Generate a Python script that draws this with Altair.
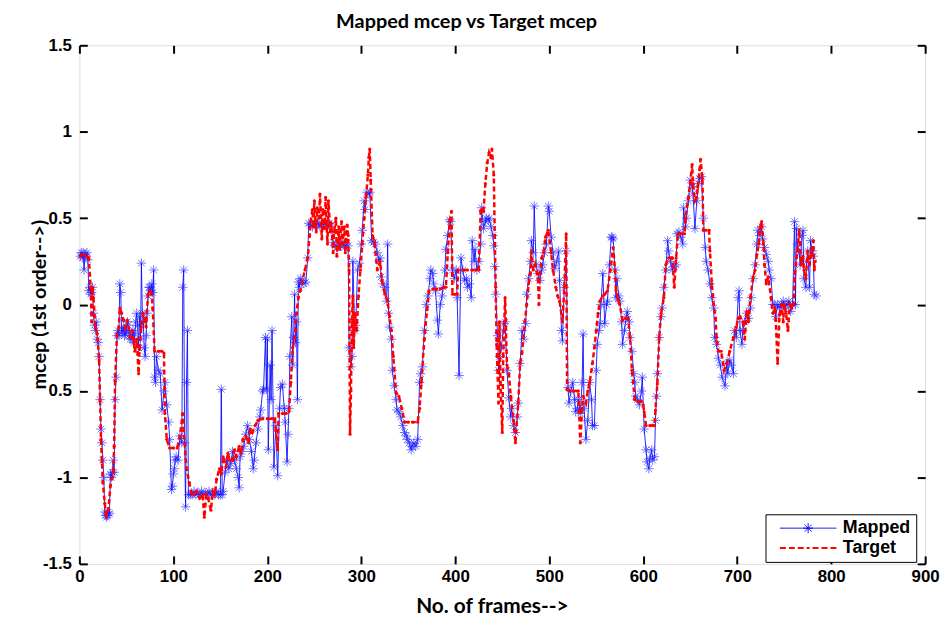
import altair as alt
import pandas as pd

# ---- data (frame number, mcep value) ----
target_points = [
    (1, 0.28), (4, 0.29), (7, 0.28), (10, 0.27), (12, 0.1), (13, -0.1), (14, 0.1), (15, 0.04),
    (17, -0.13), (19, -0.17), (21, -0.32), (22, -0.55), (23, -0.78), (24, -0.91), (25, -1.03),
    (27, -1.15), (28, -1.2), (29, -1.22), (31, -1.18), (33, -1.05), (35, -1.0), (36, -0.97),
    (37, -0.82), (38, -0.44), (40, -0.17), (42, -0.13), (43, -0.02), (45, -0.05), (47, -0.09),
    (49, -0.13), (51, -0.09), (54, -0.19), (56, -0.15), (58, -0.22), (59, -0.27), (61, -0.2),
    (63, -0.4), (64, -0.26), (66, -0.13), (68, -0.05), (70, -0.1), (71, -0.13), (73, 0.06),
    (75, 0.08), (77, 0.06), (78, -0.02), (80, -0.27), (84, -0.27), (88, -0.27), (90, -0.28),
    (91, -0.63), (93, -0.78), (96, -0.83), (100, -0.83), (104, -0.83), (107, -0.76), (110, -0.63),
    (111, -0.73), (114, -0.95), (117, -1.03), (119, -1.09), (122, -1.1), (125, -1.08), (128, -1.12),
    (131, -1.1), (133, -1.23), (135, -1.1), (137, -1.12), (140, -1.19), (142, -1.08), (144, -1.1),
    (146, -1.01), (149, -0.95), (151, -0.98), (153, -0.88), (156, -0.94), (158, -0.86), (160, -0.9),
    (163, -0.9), (165, -0.84), (167, -0.88), (170, -0.82), (172, -0.86), (174, -0.78), (177, -0.76),
    (180, -0.8), (182, -0.72), (184, -0.74), (187, -0.7), (190, -0.67), (195, -0.66), (200, -0.66),
    (205, -0.66), (208, -0.66), (209, -0.73), (211, -0.84), (212, -0.63), (216, -0.63), (220, -0.63),
    (223, -0.62), (225, -0.45), (227, -0.25), (229, -0.2), (231, -0.05), (233, 0.04), (235, 0.08),
    (237, 0.13), (240, 0.2), (243, 0.27), (245, 0.4), (246, 0.48), (248, 0.55), (249, 0.45),
    (250, 0.6), (252, 0.42), (253, 0.56), (255, 0.5), (256, 0.64), (258, 0.38), (259, 0.55),
    (261, 0.44), (262, 0.62), (264, 0.35), (265, 0.6), (267, 0.42), (268, 0.47), (270, 0.3),
    (271, 0.42), (273, 0.5), (274, 0.28), (276, 0.45), (277, 0.32), (279, 0.48), (280, 0.35),
    (282, 0.45), (283, 0.3), (285, 0.46), (286, 0.4), (287, 0.2), (288, -0.75), (289, -0.5),
    (290, -0.1), (291, 0.05), (292, -0.25), (293, -0.05), (295, -0.15), (297, 0.05), (299, 0.2),
    (301, 0.35), (303, 0.5), (305, 0.62), (307, 0.75), (308, 0.85), (309, 0.9), (310, 0.72),
    (312, 0.4), (314, 0.36), (317, 0.2), (320, 0.25), (322, 0.14), (325, 0.06), (328, 0.02),
    (330, -0.07), (332, -0.15), (334, -0.3), (337, -0.51), (340, -0.53), (343, -0.6), (346, -0.68),
    (350, -0.68), (355, -0.68), (360, -0.68), (362, -0.6), (364, -0.45), (367, -0.2), (370, -0.03),
    (372, 0.08), (376, 0.09), (380, 0.09), (384, 0.09), (388, 0.1), (390, 0.1), (392, 0.3),
    (394, 0.48), (396, 0.54), (397, 0.06), (399, 0.06), (402, 0.06), (403, 0.2), (408, 0.2),
    (413, 0.2), (418, 0.2), (422, 0.2), (425, 0.2), (427, 0.54), (428, 0.55), (430, 0.54),
    (432, 0.7), (434, 0.82), (436, 0.88), (438, 0.85), (439, 0.9), (441, 0.75), (442, 0.4),
    (443, 0.1), (444, -0.23), (446, -0.57), (447, -0.1), (448, -0.45), (450, -0.74), (451, -0.3),
    (453, 0.04), (455, -0.35), (457, -0.4), (459, -0.53), (462, -0.67), (464, -0.8), (467, -0.57),
    (469, -0.34), (471, -0.28), (474, -0.1), (476, 0.0), (478, 0.12), (480, 0.18), (481, 0.31),
    (483, 0.2), (485, 0.23), (488, 0.15), (489, 0.0), (490, 0.18), (492, 0.27), (494, 0.3),
    (496, 0.39), (499, 0.43), (502, 0.3), (504, 0.2), (507, 0.1), (509, 0.05), (511, 0.02),
    (514, -0.1), (516, 0.1), (518, 0.41), (519, -0.49), (522, -0.5), (526, -0.5), (530, -0.5),
    (531, -0.5), (533, -0.8), (535, -0.6), (536, -0.53), (539, -0.57), (541, -0.5), (543, -0.45),
    (546, -0.34), (548, -0.25), (550, -0.15), (552, -0.05), (554, 0.02), (557, 0.05), (559, 0.06),
    (562, 0.08), (565, 0.2), (568, 0.33), (570, 0.2), (571, 0.08), (573, 0.03), (575, 0.0),
    (578, -0.09), (581, -0.08), (584, -0.08), (586, -0.19), (588, -0.38), (591, -0.55), (594, -0.56),
    (598, -0.56), (600, -0.58), (601, -0.62), (603, -0.7), (607, -0.7), (610, -0.7), (612, -0.7),
    (613, -0.61), (615, -0.46), (617, -0.19), (619, -0.05), (622, 0.04), (624, 0.23), (627, 0.27),
    (630, 0.27), (631, 0.27), (633, 0.1), (635, 0.27), (637, 0.41), (640, 0.41), (644, 0.41),
    (645, 0.5), (648, 0.62), (650, 0.7), (652, 0.81), (653, 0.7), (655, 0.6), (657, 0.62),
    (658, 0.68), (660, 0.78), (661, 0.84), (663, 0.73), (664, 0.43), (667, 0.43), (670, 0.43),
    (671, 0.31), (673, 0.12), (675, 0.0), (677, -0.08), (678, -0.19), (680, -0.27), (683, -0.27),
    (686, -0.38), (689, -0.34), (692, -0.27), (696, -0.19), (699, -0.13), (701, -0.08), (703, -0.07),
    (706, -0.1), (708, -0.2), (710, -0.04), (712, -0.1), (714, 0.04), (717, 0.16), (719, 0.2),
    (721, 0.29), (723, 0.35), (724, 0.44), (726, 0.48), (728, 0.35), (729, 0.23), (731, 0.12),
    (733, 0.16), (736, 0.04), (738, -0.05), (740, -0.02), (741, -0.09), (743, -0.34), (745, -0.06),
    (747, 0.0), (749, -0.1), (750, 0.0), (752, -0.05), (754, -0.15), (756, 0.0), (758, -0.02),
    (760, 0.0), (761, 0.15), (763, 0.27), (764, 0.31), (766, 0.43), (768, 0.23), (770, 0.28),
    (771, 0.2), (773, 0.15), (775, 0.31), (777, 0.23), (779, 0.3), (781, 0.37), (782, 0.2),
    (783, 0.25),
]

mapped_points = [
    (1, 0.28), (2, 0.3), (3, 0.27), (4, 0.3), (5, 0.2), (6, 0.29), (7, 0.28), (8, 0.3), (9, 0.26),
    (10, 0.08), (11, 0.1), (12, 0.06), (13, 0.07), (14, 0.1), (15, -0.05), (16, -0.12), (17, -0.15),
    (18, -0.1), (19, -0.2), (20, -0.22), (21, -0.3), (22, -0.55), (23, -0.72), (24, -0.8), (25, -0.9),
    (26, -1.0), (27, -1.2), (28, -1.22), (29, -1.23), (30, -1.22), (31, -1.2), (32, -1.21),
    (33, -0.98), (34, -1.0), (35, -0.97), (36, -0.9), (37, -0.97), (38, -0.55), (39, -0.42),
    (40, -0.18), (41, -0.15), (42, -0.18), (43, 0.12), (44, 0.07), (45, -0.16), (46, -0.15),
    (47, -0.13), (48, -0.18), (49, -0.17), (50, -0.15), (51, -0.1), (52, -0.12), (53, -0.16),
    (54, -0.2), (55, -0.18), (56, -0.2), (57, -0.15), (58, -0.22), (59, -0.17), (60, -0.1),
    (61, -0.05), (62, -0.12), (63, -0.25), (64, -0.07), (65, -0.2), (66, 0.24), (67, -0.05),
    (68, -0.1), (69, -0.25), (70, -0.3), (71, -0.18), (72, -0.05), (73, 0.05), (74, 0.1), (75, 0.1),
    (76, 0.08), (77, 0.12), (78, 0.07), (79, 0.2), (80, -0.42), (81, -0.45), (82, -0.3), (84, -0.38),
    (86, -0.4), (88, -0.61), (90, -0.5), (91, -0.45), (93, -0.58), (95, -0.68), (96, -0.78),
    (98, -1.07), (99, -1.05), (100, -0.98), (101, -0.95), (102, -0.9), (103, -0.88), (105, -0.9),
    (107, -0.76), (109, -0.8), (110, 0.1), (111, 0.2), (112, -0.8), (113, -1.17), (114, -0.45),
    (115, -0.15), (116, -1.1), (118, -1.1), (120, -1.1), (122, -1.08), (124, -1.1), (126, -1.09),
    (128, -1.1), (130, -1.08), (132, -1.1), (134, -1.09), (136, -1.1), (138, -1.08), (140, -1.1),
    (142, -1.09), (144, -1.1), (146, -1.08), (148, -1.1), (150, -1.1), (151, -0.49), (152, -1.1),
    (153, -1.08), (155, -0.97), (157, -0.9), (159, -0.95), (161, -0.92), (163, -0.85), (165, -0.9),
    (167, -0.95), (169, -1.0), (170, -1.06), (171, -0.88), (173, -0.85), (175, -0.82), (177, -0.75),
    (179, -0.7), (181, -0.78), (183, -0.85), (185, -0.95), (186, -0.9), (188, -0.8), (190, -0.72),
    (192, -0.65), (193, -0.61), (195, -0.5), (196, -0.49), (198, -0.19), (199, -0.49), (200, -0.2),
    (201, -0.84), (203, -0.35), (204, -0.55), (205, -0.15), (207, -0.94), (209, -0.7), (211, -0.99),
    (213, -0.6), (214, -0.48), (216, -0.46), (218, -0.6), (219, -0.68), (221, -0.91), (222, -0.75),
    (223, -0.6), (224, -0.3), (226, -0.07), (227, -0.35), (228, -0.19), (229, 0.06), (230, -0.22),
    (231, -0.1), (232, -0.55), (233, 0.13), (234, 0.1), (235, 0.15), (237, 0.14), (239, 0.12),
    (241, 0.13), (243, 0.27), (244, 0.47), (246, 0.46), (248, 0.45), (250, 0.48), (252, 0.46),
    (254, 0.47), (256, 0.45), (258, 0.47), (260, 0.46), (262, 0.48), (264, 0.45), (266, 0.47),
    (268, 0.46), (270, 0.36), (272, 0.34), (274, 0.33), (276, 0.35), (278, 0.34), (280, 0.36),
    (282, 0.33), (284, 0.35), (286, 0.34), (287, -0.25), (289, -0.36), (290, -0.3), (291, 0.25),
    (293, -0.15), (294, -0.12), (296, 0.2), (298, 0.24), (300, 0.35), (301, 0.43), (303, 0.6),
    (304, 0.55), (306, 0.65), (308, 0.64), (309, 0.65), (311, 0.37), (313, 0.36), (315, 0.35),
    (317, 0.3), (319, 0.25), (320, 0.27), (321, 0.16), (323, 0.12), (325, 0.1), (327, 0.02),
    (328, 0.35), (329, -0.05), (330, -0.13), (332, -0.2), (333, -0.38), (335, -0.47), (337, -0.55),
    (338, -0.61), (340, -0.62), (342, -0.65), (344, -0.7), (346, -0.74), (348, -0.76), (349, -0.78),
    (351, -0.8), (353, -0.84), (354, -0.82), (356, -0.8), (358, -0.82), (360, -0.78), (362, -0.45),
    (363, -0.4), (365, -0.36), (367, -0.15), (369, 0.0), (371, 0.05), (373, 0.15), (374, 0.2),
    (376, 0.18), (377, 0.12), (379, 0.08), (381, -0.09), (382, -0.17), (384, 0.0), (386, 0.05),
    (387, 0.1), (389, 0.2), (390, 0.32), (392, 0.4), (394, 0.49), (395, 0.48), (397, 0.2),
    (399, 0.15), (401, 0.2), (402, 0.04), (404, -0.41), (406, 0.27), (408, 0.2), (410, 0.14),
    (412, 0.15), (413, 0.1), (415, 0.12), (417, 0.04), (418, 0.37), (420, 0.25), (421, 0.32),
    (423, 0.2), (425, 0.25), (427, 0.35), (428, 0.56), (430, 0.44), (432, 0.48), (433, 0.5),
    (435, 0.49), (436, 0.5), (438, 0.45), (440, 0.4), (441, 0.34), (442, 0.22), (443, 0.06),
    (445, -0.18), (446, -0.38), (447, -0.3), (449, -0.25), (451, -0.15), (452, -0.11), (453, -0.1),
    (455, -0.38), (457, -0.54), (459, -0.65), (460, -0.6), (462, -0.7), (464, -0.74), (466, -0.65),
    (467, -0.57), (469, -0.34), (471, -0.15), (473, -0.2), (475, -0.11), (476, 0.06), (478, 0.15),
    (480, 0.25), (481, 0.37), (483, 0.3), (484, 0.57), (486, 0.23), (488, 0.18), (490, 0.14),
    (492, 0.2), (493, 0.23), (495, 0.3), (497, 0.35), (499, 0.57), (500, 0.54), (502, 0.39),
    (504, 0.3), (506, 0.21), (508, 0.25), (510, 0.31), (511, 0.14), (513, -0.15), (514, -0.21),
    (516, 0.1), (518, 0.31), (520, -0.48), (521, -0.57), (523, -0.5), (525, -0.45), (527, -0.55),
    (528, -0.62), (530, -0.6), (531, -0.55), (533, -0.63), (535, -0.45), (536, -0.17), (537, -0.6),
    (539, -0.78), (541, -0.67), (543, -0.45), (545, -0.55), (546, -0.7), (548, -0.7), (550, -0.38),
    (551, -0.23), (553, -0.15), (554, -0.11), (555, 0.0), (557, 0.18), (559, -0.11), (561, 0.0),
    (562, 0.02), (564, 0.23), (566, 0.39), (567, 0.39), (568, 0.38), (570, 0.2), (571, 0.04),
    (572, 0.15), (574, 0.05), (575, 0.02), (577, -0.1), (578, -0.23), (580, -0.15), (582, -0.07),
    (583, -0.04), (585, -0.1), (586, -0.19), (588, -0.27), (590, -0.4), (591, -0.45), (592, -0.53),
    (594, -0.55), (596, -0.58), (598, -0.5), (599, -0.42), (601, -0.72), (603, -0.84), (604, -0.91),
    (606, -0.95), (607, -0.89), (609, -0.84), (610, -0.9), (612, -0.88), (613, -0.67), (614, -0.53),
    (615, -0.4), (617, -0.19), (619, -0.07), (620, -0.02), (622, 0.1), (624, 0.2), (626, 0.37),
    (627, 0.31), (629, 0.25), (631, 0.2), (633, 0.22), (635, 0.23), (636, 0.41), (638, 0.42),
    (640, 0.39), (642, 0.35), (643, 0.56), (645, 0.45), (646, 0.5), (648, 0.6), (650, 0.72),
    (652, 0.68), (653, 0.64), (655, 0.44), (657, 0.6), (659, 0.7), (660, 0.73), (662, 0.74),
    (664, 0.5), (666, 0.33), (667, 0.25), (669, 0.2), (671, 0.12), (673, 0.04), (675, -0.02),
    (676, -0.19), (678, -0.23), (680, -0.31), (682, -0.35), (684, -0.42), (687, -0.47), (689, -0.34),
    (690, -0.4), (692, -0.32), (694, -0.35), (696, -0.4), (697, -0.15), (699, -0.19), (701, 0.04),
    (702, 0.08), (703, -0.15), (705, -0.23), (706, -0.15), (708, -0.1), (710, -0.05), (712, -0.08),
    (714, -0.02), (715, 0.04), (717, 0.15), (719, 0.23), (721, 0.35), (722, 0.43), (724, 0.4),
    (726, 0.45), (727, 0.38), (729, 0.33), (731, 0.29), (733, 0.25), (734, 0.2), (736, 0.15),
    (738, 0.0), (740, 0.0), (741, -0.07), (743, 0.0), (745, -0.02), (747, 0.0), (749, 0.02),
    (750, -0.02), (752, 0.0), (754, 0.0), (755, 0.02), (757, -0.04), (759, 0.0), (761, 0.48),
    (762, 0.0), (763, 0.44), (764, 0.35), (766, 0.3), (767, 0.23), (769, 0.4), (770, 0.43),
    (771, 0.15), (773, 0.1), (774, 0.25), (775, 0.31), (777, 0.1), (778, 0.37), (780, 0.31),
    (781, 0.28), (782, 0.06), (784, 0.05),
]

series_names = ["Mapped", "Target"]
series_colors = ["#0000ff", "#ff0000"]
x_ticks = [0, 100, 200, 300, 400, 500, 600, 700, 800, 900]
y_ticks = [-1.5, -1.0, -0.5, 0.0, 0.5, 1.0, 1.5]

# ---- tables ----
mapped_df = pd.DataFrame(mapped_points, columns=["frame", "mcep"])
mapped_df["series"] = "Mapped"
target_df = pd.DataFrame(target_points, columns=["frame", "mcep"])
target_df["series"] = "Target"

ASTERISK = "M0,-1V1M-1,0H1M-0.7,-0.7L0.7,0.7M-0.7,0.7L0.7,-0.7"
LEG_MAPPED = "M-5.7,0H5.7" + "M0,-1V1M-1,0H1M-0.7,-0.7L0.7,0.7M-0.7,0.7L0.7,-0.7"
LEG_TARGET = ("M-5.7,0H-4.5M-3.9,0H-2.7M-2.1,0H-0.9M-0.3,0H0.3"
              "M0.9,0H2.1M2.7,0H3.9M4.5,0H5.7")

xscale = alt.Scale(domain=[0, 900], nice=False, zero=False)
yscale = alt.Scale(domain=[-1.5, 1.5], nice=False, zero=False)

LABEL_FONT = "Liberation Sans"
TITLE_FONT = "Lato"

x_axis = alt.Axis(
    orient="bottom", values=x_ticks, labelExpr="'' + datum.value",
    domain=False, grid=False, ticks=True, tickSize=8, tickWidth=2, tickColor="black",
    offset=-8, labelFont=LABEL_FONT, labelFontSize=17, labelFontWeight="bold",
    labelColor="black", labelPadding=5, labelFlush=False, labelOverlap=False,
    title="No. of frames-->", titleFont=TITLE_FONT, titleFontSize=21,
    titleFontWeight="bold", titleColor="black", titleX=416, titleY=51,
    titleAlign="center", titleBaseline="middle",
)
y_axis = alt.Axis(
    orient="left", values=y_ticks,
    labelExpr="datum.value == -0.5 ? '0.5' : '' + datum.value",
    domain=False, grid=False, ticks=True, tickSize=8, tickWidth=2, tickColor="black",
    offset=-8, labelFont=LABEL_FONT, labelFontSize=17, labelFontWeight="bold",
    labelColor="black", labelPadding=8, labelFlush=False, labelOverlap=False,
    title="mcep (1st order-->)", titleFont=TITLE_FONT, titleFontSize=20,
    titleFontWeight="bold", titleColor="black", titleX=-48, titleY=261,
    titleAngle=-90, titleAlign="center", titleBaseline="middle",
)
x_top = alt.Axis(orient="top", values=x_ticks, domain=False, grid=False, labels=False,
                 ticks=True, tickSize=8, tickWidth=2, tickColor="black", offset=-8, title=None)
y_right = alt.Axis(orient="right", values=y_ticks, domain=False, grid=False, labels=False,
                   ticks=True, tickSize=8, tickWidth=2, tickColor="black", offset=-8, title=None)

legend = alt.Legend(
    title=None, orient="none", legendX=692, legendY=473, direction="vertical",
    labelFont=LABEL_FONT, labelFontSize=18, labelFontWeight="bold", labelColor="black",
    strokeColor="black", fillColor="white", padding=5, symbolSize=100,
    symbolOffset=29, labelOffset=26, rowPadding=2,
    symbolType={"expr": "datum.value === 'Mapped' ? '%s' : '%s'" % (LEG_MAPPED, LEG_TARGET)},
    symbolStrokeWidth={"expr": "datum.value === 'Mapped' ? 1 : 2"},
    symbolFillColor="transparent",
    symbolDash=[1, 0],
    symbolOpacity=1,
)

mapped_line = alt.Chart(mapped_df).mark_line(strokeWidth=1, opacity=0.85).encode(
    x=alt.X("frame:Q", scale=xscale, axis=x_axis),
    y=alt.Y("mcep:Q", scale=yscale, axis=y_axis),
    color=alt.Color("series:N", scale=alt.Scale(domain=series_names, range=series_colors),
                    legend=legend),
)
mapped_stars = alt.Chart(mapped_df).mark_point(
    shape=ASTERISK, filled=False, size=90, strokeWidth=1, color="#1a1aff", opacity=0.6
).encode(
    x=alt.X("frame:Q", scale=xscale, axis=None),
    y=alt.Y("mcep:Q", scale=yscale, axis=None),
)
target_line = alt.Chart(target_df).mark_line(
    strokeWidth=2.5, strokeDash=[5, 3], color="#ff0000"
).encode(
    x=alt.X("frame:Q", scale=xscale, axis=x_top),
    y=alt.Y("mcep:Q", scale=yscale, axis=y_right),
)
target_dots = alt.Chart(target_df).mark_point(
    shape="circle", filled=True, size=10, color="#ff0000", opacity=1
).encode(
    x=alt.X("frame:Q", scale=xscale, axis=None),
    y=alt.Y("mcep:Q", scale=yscale, axis=None),
)

chart = alt.layer(mapped_line, mapped_stars, target_line, target_dots).resolve_axis(
    x="independent", y="independent"
).properties(
    width=853, height=523,
    title=alt.TitleParams("Mapped mcep vs Target mcep", font=TITLE_FONT, fontSize=20,
                          fontWeight="bold", color="black", anchor="middle", dx=-36,
                          offset=4),
    autosize=alt.AutoSizeParams(type="none"),
    padding={"left": 72, "top": 35, "right": 18, "bottom": 55},
).configure_view(stroke="black", strokeWidth=2).configure(background="white")

chart.save("out.html", embed_options={"renderer": "svg", "actions": False})
